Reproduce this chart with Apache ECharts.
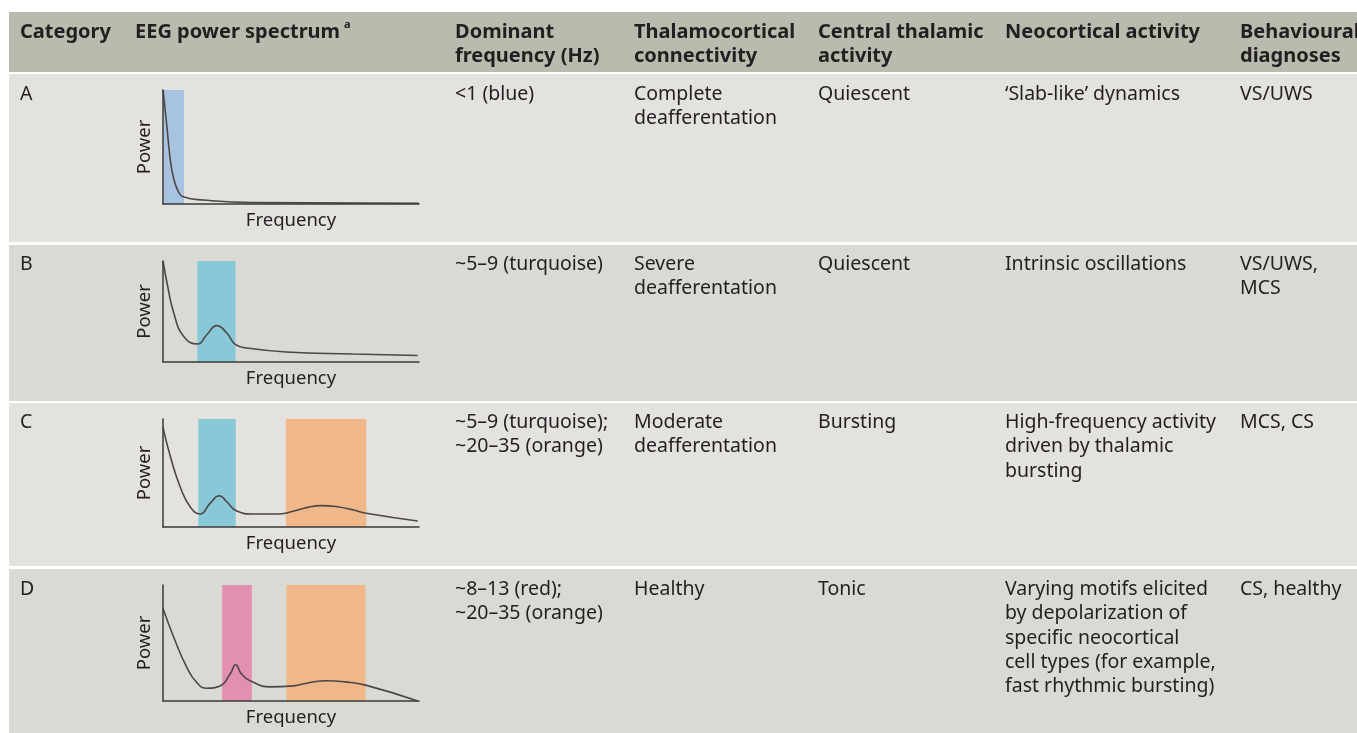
<!DOCTYPE html>
<html>
<head>
<meta charset="utf-8">
<script src="https://cdn.jsdelivr.net/npm/echarts@6/dist/echarts.min.js"></script>
<style>
html,body{margin:0;padding:0;background:#fff;}
#c{width:1357px;height:733px;}
</style>
</head>
<body>
<div id="c"></div>
<script>
// ---------- DATA ----------
const categories = ['A', 'B', 'C', 'D'];
const headers = ['Category', 'EEG power spectrum', 'Dominant\nfrequency (Hz)', 'Thalamocortical\nconnectivity', 'Central thalamic\nactivity', 'Neocortical activity', 'Behavioural\ndiagnoses'];
const headerFootnote = 'a';
const dominantFrequency = ['<1 (blue)', '~5–9 (turquoise)', '~5–9 (turquoise);\n~20–35 (orange)', '~8–13 (red);\n~20–35 (orange)'];
const thalamocorticalConnectivity = ['Complete\ndeafferentation', 'Severe\ndeafferentation', 'Moderate\ndeafferentation', 'Healthy'];
const centralThalamicActivity = ['Quiescent', 'Quiescent', 'Bursting', 'Tonic'];
const neocorticalActivity = ['‘Slab-like’ dynamics', 'Intrinsic oscillations', 'High-frequency activity\ndriven by thalamic\nbursting', 'Varying motifs elicited\nby depolarization of\nspecific neocortical\ncell types (for example,\nfast rhythmic bursting)'];
const behaviouralDiagnoses = ['VS/UWS', 'VS/UWS,\nMCS', 'MCS, CS', 'CS, healthy'];
const axisNames = { x: 'Frequency', y: 'Power' };

// schematic spectra: [frequency (arbitrary 0-100), power (arbitrary 0-100)]
const spectrumA = [[0,100],[1.4,70.8],[2.7,41.5],[4.0,24],[6.0,10.8],[7.9,6.4],[15.7,3.5],[35,1.2],[100,0.6]];
const spectrumB = [[0,100],[1.6,78],[4.2,48.5],[8.1,25.3],[13.5,17.8],[17.1,27],[21,36],[24.9,28.7],[28.4,17.1],[32.7,13.9],[48.2,9.9],[74.2,7.9],[99.5,6.5]];
const spectrumC = [[0,92.3],[2.9,65],[6.7,37.3],[10.6,18.8],[14.5,12],[18.4,21.9],[22,29],[24.9,23.4],[28.8,14.8],[35.3,12],[44.4,12],[50.9,14.5],[56.5,18.2],[62,19.8],[68,18.8],[74,16],[79.4,12.7],[99.5,5.6]];
const spectrumD = [[0,79.7],[4.2,55],[9.3,29],[13.2,15.9],[17.1,11],[22.3,13],[26.2,23.2],[28.4,31.3],[30.7,23.2],[34.7,16.8],[41.8,12.2],[50.9,13],[57,15.8],[63.8,17.4],[71,16.5],[79.1,13.7],[99.5,0]];
const spectra = [spectrumA, spectrumB, spectrumC, spectrumD];

// frequency bands: [start, end, band name]
const bandsA = [[0, 8.2, 'blue']];
const bandsB = [[13.4, 28.3, 'turquoise']];
const bandsC = [[13.8, 28.4, 'turquoise'], [48, 79.4, 'orange']];
const bandsD = [[23.1, 34.7, 'red'], [48.2, 79.1, 'orange']];
const bands = [bandsA, bandsB, bandsC, bandsD];

// ---------- STYLE / LAYOUT ----------
const bandColors = { blue: '#a7c3df', turquoise: '#89c8d7', orange: '#f0b788', red: '#e38fb2' };
const FONT = '"Noto Sans", sans-serif';
const TXT = '#231f20';
const headerBg = '#b9bbaf';
const rowBg = ['#e3e2de', '#d9dad4', '#e3e2de', '#d9dad4'];
const rowRects = [[74, 242], [245, 401], [403, 566], [569, 740]];
const rowTextY = [94.5, 264.5, 422.5, 589.5];
const colX = [20, 135, 455, 634, 818, 1005, 1240];
const LH = 24.3;
const BODY_FS = 19.5, HEAD_FS = 20;
const chartGrids = [
  { left: 163, top: 90, width: 256, height: 114 },
  { left: 163, top: 261, width: 256, height: 101 },
  { left: 163, top: 419, width: 256, height: 108 },
  { left: 163, top: 585, width: 256, height: 116 }
];

const graphics = [];
graphics.push({ type: 'rect', shape: { x: 9, y: 12, width: 1400, height: 60 }, style: { fill: headerBg }, z: -10 });
rowRects.forEach((r, i) => {
  graphics.push({ type: 'rect', shape: { x: 9, y: r[0], width: 1400, height: r[1] - r[0] }, style: { fill: rowBg[i] }, z: -10 });
});
headers.forEach((h, i) => {
  if (i === 1) {
    graphics.push({ type: 'text', x: colX[i], y: 32 - LH / 2, style: {
      text: '{h|' + h + '}{s|' + headerFootnote + '}', fill: TXT, verticalAlign: 'top',
      rich: { h: { fontSize: HEAD_FS, fontWeight: 'bold', fontFamily: FONT, lineHeight: LH, fill: TXT },
              s: { fontSize: 11, fontWeight: 'bold', fontFamily: FONT, lineHeight: 15, verticalAlign: 'top', fill: TXT, padding: [0, 0, 0, 4] } } } });
  } else {
    graphics.push({ type: 'text', x: colX[i], y: 32 - LH / 2, style: {
      text: h, fill: TXT, font: 'bold ' + HEAD_FS + 'px ' + FONT, lineHeight: LH, verticalAlign: 'top' } });
  }
});
const cols = [categories, null, dominantFrequency, thalamocorticalConnectivity, centralThalamicActivity, neocorticalActivity, behaviouralDiagnoses];
categories.forEach((c, r) => {
  cols.forEach((col, ci) => {
    if (!col) return;
    graphics.push({ type: 'text', x: colX[ci], y: rowTextY[r] - LH / 2, style: {
      text: col[r], fill: TXT, font: BODY_FS + 'px ' + FONT, lineHeight: LH, verticalAlign: 'top' } });
  });
});

const grid = [], xAxis = [], yAxis = [], series = [];
spectra.forEach((sp, i) => {
  grid.push(Object.assign({ outerBoundsMode: 'none', containLabel: false }, chartGrids[i]));
  const axLine = { show: true, onZero: false, lineStyle: { color: '#3a3a3a', width: 1.5 } };
  xAxis.push({ gridIndex: i, type: 'value', min: 0, max: 100, z: 5,
    name: axisNames.x, nameLocation: 'middle', nameGap: 7,
    nameTextStyle: { fontSize: 18.5, fontFamily: FONT, color: TXT, verticalAlign: 'top' },
    axisLine: axLine, axisTick: { show: false }, axisLabel: { show: false }, splitLine: { show: false } });
  yAxis.push({ gridIndex: i, type: 'value', min: 0, max: 100, z: 5,
    name: axisNames.y, nameLocation: 'middle', nameGap: 9,
    nameTextStyle: { fontSize: 18.5, fontFamily: FONT, color: TXT },
    axisLine: axLine, axisTick: { show: false }, axisLabel: { show: false }, splitLine: { show: false } });
  series.push({ type: 'line', xAxisIndex: i, yAxisIndex: i, data: sp, smooth: 0.5, showSymbol: false, symbol: 'none',
    silent: true, z: 3,
    lineStyle: { color: '#4d4748', width: 1.6 },
    markArea: { silent: true, z: 1,
      data: bands[i].map(b => [{ xAxis: b[0], itemStyle: { color: bandColors[b[2]], opacity: 1 } }, { xAxis: b[1] }]) } });
});

const chart = echarts.init(document.getElementById('c'), null, { renderer: 'canvas' });
chart.setOption({
  animation: false,
  backgroundColor: '#ffffff',
  grid, xAxis, yAxis, series,
  graphic: { elements: graphics }
});
</script>
</body>
</html>
